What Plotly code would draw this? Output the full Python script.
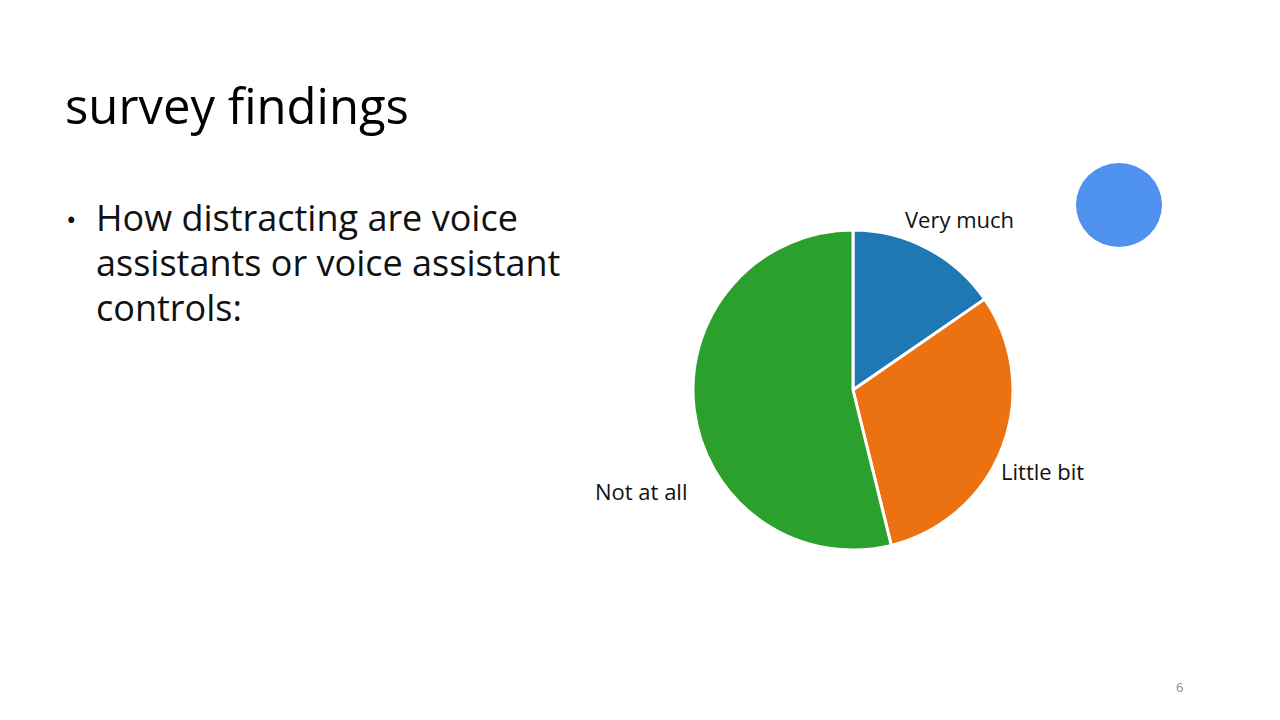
import plotly.graph_objects as go

categories = ["Very much", "Little bit", "Not at all"]
counts = [2, 4, 7]
slice_colors = ["#1F77B4", "#EC7211", "#2CA02C"]

title_text = "survey findings"
bullet_lines = ["How distracting are voice", "assistants or voice assistant", "controls:"]
page_number = "6"

W, H = 1280, 720

def px(x):
    return x / W

def py(y):
    return 1 - y / H

fig = go.Figure()
fig.add_trace(go.Pie(
    labels=categories,
    values=counts,
    sort=False,
    direction="clockwise",
    rotation=0,
    marker=dict(colors=slice_colors, line=dict(color="white", width=3)),
    textinfo="none",
    hoverinfo="label+value+percent",
    showlegend=False,
    domain=dict(x=[px(693), px(1013)], y=[py(550), py(230)]),
))

label_font = dict(family="Open Sans, Noto Sans, sans-serif", size=22, color="#111111")
label_pos = [(959, 219), (1042, 471), (641, 491)]
anns = []
for name, (x, y) in zip(categories, label_pos):
    anns.append(dict(x=px(x), y=py(y), xref="paper", yref="paper", text=name,
                     showarrow=False, font=label_font, xanchor="center", yanchor="middle"))

anns.append(dict(x=px(63), y=py(105), xref="paper", yref="paper", text=title_text,
                 showarrow=False, xanchor="left", yanchor="middle",
                 font=dict(family="Open Sans, Noto Sans, sans-serif", size=49, color="#000000")))

bullet_font = dict(family="Open Sans, Noto Sans, sans-serif", size=36, color="#111111")
anns.append(dict(x=px(64), y=py(219), xref="paper", yref="paper", text="•",
                 showarrow=False, xanchor="left", yanchor="middle",
                 font=dict(family="Open Sans, Noto Sans, sans-serif", size=28, color="#111111")))
for i, line in enumerate(bullet_lines):
    anns.append(dict(x=px(94), y=py(217 + 45 * i), xref="paper", yref="paper", text=line,
                     showarrow=False, xanchor="left", yanchor="middle", font=bullet_font))

anns.append(dict(x=px(1179), y=py(687), xref="paper", yref="paper", text=page_number,
                 showarrow=False, xanchor="center", yanchor="middle",
                 font=dict(family="Open Sans, sans-serif", size=13, color="#8c8c8c")))

fig.update_layout(
    width=W, height=H,
    margin=dict(l=0, r=0, t=0, b=0),
    paper_bgcolor="white", plot_bgcolor="white",
    annotations=anns,
    shapes=[dict(type="circle", xref="paper", yref="paper",
                 x0=px(1076), x1=px(1162), y0=py(247), y1=py(163),
                 fillcolor="#4F91EF", line=dict(width=0), layer="above")],
)

fig.write_html("out.html", config={"displayModeBar": False})
